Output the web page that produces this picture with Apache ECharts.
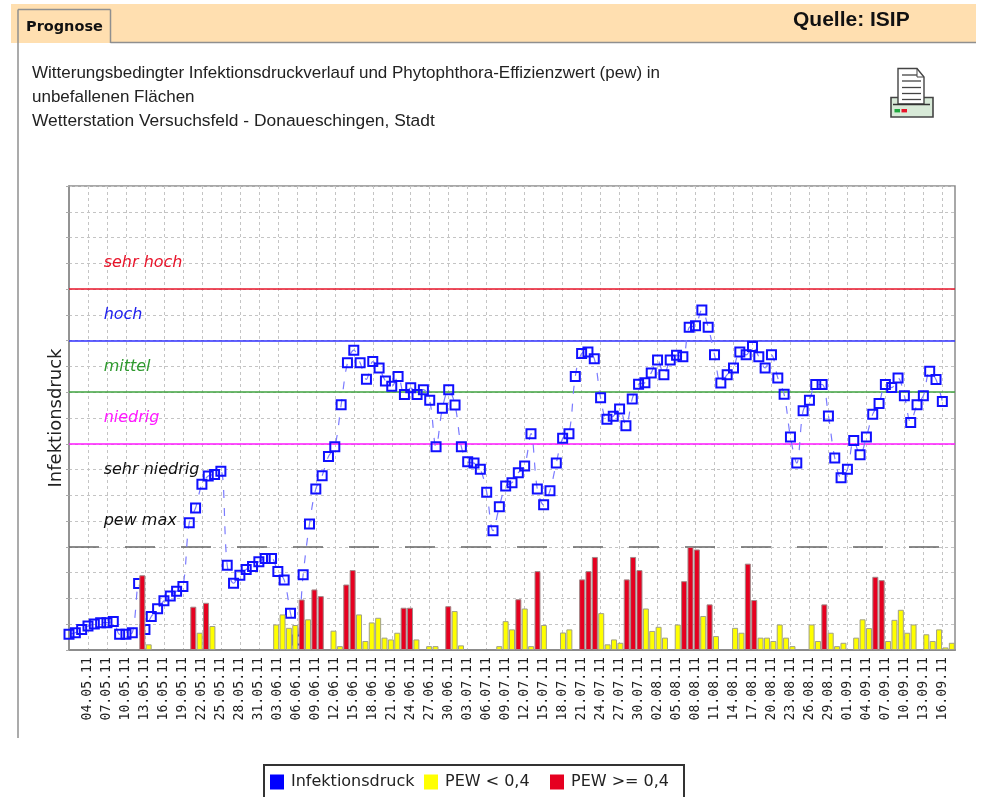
<!DOCTYPE html>
<html><head><meta charset="utf-8">
<style>html,body{margin:0;padding:0;background:#fff;overflow:hidden}#c{width:982px;height:797px}</style>
<script src="https://cdn.jsdelivr.net/npm/echarts@6/dist/echarts.min.js"></script>
</head><body><div id="c"></div>
<script>
const monthLengths = [[5,31],[6,30],[7,31],[8,31],[9,18]];
const days = [];
monthLengths.forEach(([m,n])=>{for(let d=1;d<=n;d++)days.push(String(d).padStart(2,'0')+'.'+String(m).padStart(2,'0')+'.11');});

const infektionsdruck = [0.61,0.67,0.80,0.93,1.01,1.06,1.06,1.11,0.61,0.61,0.67,2.58,0.80,1.30,1.60,1.91,2.09,2.28,2.46,4.94,
5.51,6.43,6.75,6.81,6.93,3.29,2.59,2.90,3.12,3.24,3.42,3.55,3.55,3.05,2.72,1.43,0.39,2.92,4.89,6.25,
6.76,7.51,7.88,9.51,11.14,11.63,11.14,10.50,11.19,10.94,10.44,10.23,10.61,9.91,10.17,9.91,10.10,9.69,7.88,9.38,
10.10,9.50,7.88,7.30,7.25,7.01,6.12,4.63,5.56,6.36,6.49,6.88,7.14,8.39,6.25,5.63,6.18,7.25,8.21,8.39,
10.61,11.50,11.56,11.30,9.79,8.95,9.07,9.35,8.70,9.74,10.31,10.37,10.75,11.25,10.68,11.25,11.43,11.38,12.52,12.58,
13.19,12.52,11.45,10.36,10.68,10.94,11.56,11.45,11.77,11.38,10.94,11.45,10.55,9.92,8.26,7.25,9.28,9.69,10.30,10.30,
9.08,7.45,6.68,7.01,8.13,7.57,8.26,9.15,9.56,10.30,10.18,10.55,9.86,8.83,9.51,9.86,10.81,10.49,9.64];

const pewLowDays = [12,20,22,32,33,34,35,37,41,42,45,46,47,48,49,50,51,54,56,57,60,61,67,68,69,71,72,74,77,78,83,84,85,86,90,91,92,93,95,99,101,104,105,108,109,110,111,112,113,116,117,119,120,121,123,124,125,128,129,130,131,132,134,135,136,137,138];
const pewLowValues = [0.22,0.67,0.93,0.99,1.38,0.86,0.97,1.19,0.75,0.15,1.38,0.35,1.07,1.25,0.48,0.41,0.67,0.41,0.15,0.15,1.51,0.18,0.15,1.12,0.80,1.61,0.15,0.97,0.68,0.80,1.43,0.22,0.41,0.28,1.61,0.74,0.90,0.48,0.99,1.32,0.54,0.86,0.67,0.48,0.48,0.35,0.99,0.48,0.15,0.99,0.35,0.67,0.15,0.28,0.48,1.19,0.85,0.35,1.17,1.56,0.67,0.99,0.61,0.35,0.80,0.10,0.28];
const pewHighDays = [11,19,21,36,38,39,43,44,52,53,59,70,73,80,81,82,87,88,89,96,97,98,100,106,107,118,126,127];
const pewHighValues = [2.90,1.68,1.83,1.96,2.35,2.09,2.54,3.10,1.64,1.64,1.70,1.97,3.06,2.74,3.06,3.61,2.74,3.61,3.10,2.67,4.00,3.90,1.77,3.35,1.94,1.77,2.84,2.71];

const thresholdValues = [8,10,12,14];
const thresholdColors = ['#ff19ff','#3fa33f','#2f2fff','#e8142a'];
const pewMax = 4;
const zoneNames = ['pew max','sehr niedrig','niedrig','mittel','hoch','sehr hoch'];
const zoneCenters = [5,7,9,11,13,15];
const zoneColors = ['#111111','#111111','#ff19ff','#2f9a2f','#2020ee','#e8142a'];

const seriesNames = ['Infektionsdruck','PEW < 0,4','PEW >= 0,4'];
const legendColors = ['#0000ff','#ffff00','#e60020'];
const legendLefts = [270,424,550];
const titleLines = ['Witterungsbedingter Infektionsdruckverlauf und Phytophthora-Effizienzwert (pew) in','unbefallenen Flächen','Wetterstation Versuchsfeld - Donaueschingen, Stadt'];

const ORANGE='#ffdfb0', GREY='#8f8f8f';
const chart = echarts.init(document.getElementById('c'),null,{renderer:'canvas'});
const txt=(x,y,text,font,fill,extra)=>({type:'text',z:1,silent:true,style:Object.assign({x,y,text,font,fill,textVerticalAlign:'middle'},extra||{})});
const rect=(x,y,w,h,fill,stroke,lw)=>({type:'rect',z:1,silent:true,shape:{x,y,width:w,height:h},style:{fill:fill||'none',stroke:stroke||null,lineWidth:lw||0}});
const seg=(x1,y1,x2,y2,stroke,lw)=>({type:'line',z:1,silent:true,shape:{x1,y1,x2,y2},style:{stroke,lineWidth:lw||1}});

const graphics=[
 rect(11,4,965,39,ORANGE),
 seg(110.5,42.5,976,42.5,GREY,1.5),
 seg(18,9.5,18,738,GREY,1.5),
 seg(18,9.5,110.5,9.5,GREY,1.5),
 seg(110.5,9.5,110.5,43,GREY,1.5),
 txt(26,27,'Prognose','bold 14.5px "DejaVu Sans"','#111'),
 txt(793,20,'Quelle: ISIP','bold 21px "Liberation Sans"','#111'),
 txt(32,73,titleLines[0],'17px "Liberation Sans"','#222'),
 txt(32,97,titleLines[1],'17px "Liberation Sans"','#222'),
 txt(32,121,titleLines[2],'17.4px "Liberation Sans"','#222'),
 // printer icon
 rect(891,97.5,42,19.5,'#d8ead8','#444',1.6),
 {type:'polygon',z:1,silent:true,shape:{points:[[898,68.5],[917,68.5],[924,77],[924,104],[898,104]]},style:{fill:'#fff',stroke:'#444',lineWidth:1.4}},
 {type:'polyline',z:1,silent:true,shape:{points:[[917,68.5],[917,77],[924,77]]},style:{fill:'none',stroke:'#444',lineWidth:1}},
 seg(902,75,917,75,'#444',1.3),seg(902,81,921,81,'#444',1.3),seg(902,87.5,921,87.5,'#444',1.3),seg(902,93.5,921,93.5,'#444',1.3),seg(902,99.5,921,99.5,'#444',1.3),
 seg(893,104.5,930,104.5,'#333',1.3),
 rect(894.5,109,5.5,3.4,'#1fa83f'),rect(901.5,109,5.5,3.4,'#e8142a'),
 // legend frame, open at the bottom of the page like the source
 rect(264,765,420,40,'#fff','#333',2)
];

const barData=(d,v)=>d.map((i,k)=>[i,v[k]]);
const barBase={type:'bar',xAxisIndex:1,barWidth:6,barGap:'-100%',z:4,animation:false,silent:true};

chart.setOption({
 animation:false,
 backgroundColor:'#fff',
 graphic:graphics,
 grid:{left:69,top:186,width:886,height:464,show:true,borderColor:'#8c8c8c',borderWidth:1.5,backgroundColor:'transparent'},
 legend:seriesNames.map((n,i)=>({left:legendLefts[i],top:774,padding:0,itemWidth:14,itemHeight:15,icon:'rect',selectedMode:false,
   textStyle:{fontFamily:'DejaVu Sans',fontSize:16,color:'#222',padding:[0,0,0,2]},
   data:[{name:n,icon:'rect',itemStyle:{color:legendColors[i],borderWidth:0}}]})),
 xAxis:[
  {type:'category',boundaryGap:false,data:days,
   axisLine:{lineStyle:{color:'#8c8c8c',width:2}},axisTick:{show:false},
   axisLabel:{rotate:90,margin:7,fontFamily:'DejaVu Sans Mono',fontSize:13.2,color:'#222',
     interval:(i)=>i>0&&i%3===0},
   splitLine:{show:true,interval:(i)=>i>0&&i%3===0,lineStyle:{color:'#c4c4c4',type:[3,3]}}},
  {type:'category',boundaryGap:true,data:days.slice(0,139),show:false}
 ],
 yAxis:{type:'value',min:0,max:18,interval:1,
   name:'Infektionsdruck',nameLocation:'middle',nameGap:4,nameTextStyle:{fontFamily:'DejaVu Sans',fontSize:18,color:'#222'},
   axisLine:{show:true,lineStyle:{color:'#8c8c8c',width:1.5}},
   axisTick:{show:true,length:3,lineStyle:{color:'#aaa'}},axisLabel:{show:false},
   splitLine:{show:true,lineStyle:{color:'#c4c4c4',type:[3,3]}}},
 series:[
  {name:seriesNames[0],type:'line',data:infektionsdruck,smooth:0.35,z:3,silent:true,animation:false,
   symbol:'rect',symbolSize:9,showAllSymbol:true,
   lineStyle:{color:'#7a7aff',width:1.2,type:[8,10]},
   itemStyle:{color:'rgba(255,255,255,0)',borderColor:'#1010ff',borderWidth:2},
   markLine:{silent:true,symbol:'none',animation:false,label:{show:false},z:2,
     data:[...thresholdValues.map((v,i)=>({yAxis:v,lineStyle:{color:thresholdColors[i],width:1.5,type:'solid'}})),
           {yAxis:pewMax,lineStyle:{color:'#666',width:1.6,type:[30,26]}}]}},
  Object.assign({},barBase,{name:seriesNames[1],data:barData(pewLowDays,pewLowValues),itemStyle:{color:'#ffff00',borderColor:'#a0a088',borderWidth:1}}),
  Object.assign({},barBase,{name:seriesNames[2],data:barData(pewHighDays,pewHighValues),itemStyle:{color:'#e60020',borderColor:'#a08888',borderWidth:1}}),
  {type:'scatter',silent:true,z:5,symbolSize:0,animation:false,itemStyle:{opacity:1},
   data:zoneNames.map((n,i)=>({value:[5,zoneCenters[i]],name:n,
     label:{show:true,position:'right',distance:3,formatter:n,fontFamily:'DejaVu Sans',fontStyle:'italic',fontSize:16,color:zoneColors[i]}}))}
 ]
});
</script></body></html>
